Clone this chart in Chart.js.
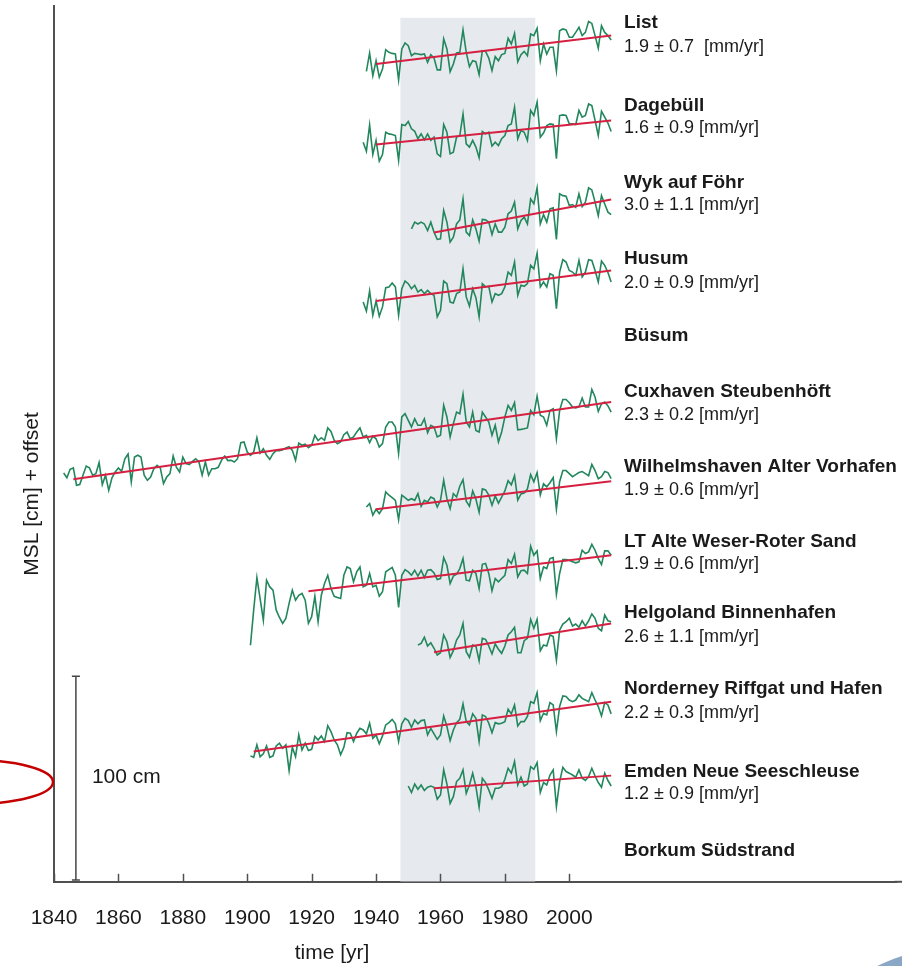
<!DOCTYPE html>
<html lang="en">
<head>
<meta charset="utf-8">
<title>MSL German Bight tide gauges</title>
<style>
  body { margin: 0; background: #ffffff; }
  #wrap { width: 902px; height: 966px; }
</style>
</head>
<body>
<div id="wrap"><canvas id="msl" width="902" height="966"></canvas></div>

<script src="https://cdn.jsdelivr.net/npm/chart.js@4.4.1/dist/chart.umd.min.js"></script>
<script>

// label column on the right (Büsum and Borkum have no curve)
var stationNames = ["List", "Dagebüll", "Wyk auf Föhr", "Husum", "Büsum", "Cuxhaven Steubenhöft",
  "Wilhelmshaven Alter Vorhafen", "LT Alte Weser-Roter Sand", "Helgoland Binnenhafen",
  "Norderney Riffgat und Hafen", "Emden Neue Seeschleuse", "Borkum Südstrand"];
var stationRates = ["1.9 ± 0.7  [mm/yr]", "1.6 ± 0.9 [mm/yr]", "3.0 ± 1.1 [mm/yr]", "2.0 ± 0.9 [mm/yr]", "",
  "2.3 ± 0.2 [mm/yr]", "1.9 ± 0.6 [mm/yr]", "1.9 ± 0.6 [mm/yr]", "2.6 ± 1.1 [mm/yr]",
  "2.2 ± 0.3 [mm/yr]", "1.2 ± 0.9 [mm/yr]", ""];

var yearTicks = [1840, 1860, 1880, 1900, 1920, 1940, 1960, 1980, 2000];
var refPeriod = [1947.5, 1989.5];

// annual mean sea level [cm], one value per year from firstYear
var mslList = [-3.6, 5.4, -5.7, 1.6, -6.5, -2.5, 7.0, 5.7, 5.2, 4.9,
  -7.8, 7.4, 10.3, 9.0, 4.1, 5.2, 4.9, 4.6, 4.9, 0.8,
  4.6, 2.9, -2.9, -2.9, 12.3, 7.4, -3.8, 0.0, 5.4, 5.7,
  16.7, 5.7, -1.3, 1.6, 1.1, -5.2, 6.5, 6.2, 2.9, -3.3,
  3.6, 1.6, 4.6, 5.2, 12.6, 9.8, 15.0, 1.1, 4.6, 6.2,
  4.1, 14.7, 13.9, 17.5, 1.6, 9.8, 4.9, 8.2, 8.2, -3.3,
  16.3, 17.2, 16.7, 13.1, 13.1, 15.5, 18.0, 13.9, 15.5, 20.9,
  19.9, 13.9, 7.8, 18.8, 15.5, 14.0, 11.8];
var mslDagebuell = [1.1, -3.3, 9.6, -4.9, 2.0, -8.2, -4.9, 6.0, 5.2, 4.9,
  4.4, -7.8, 9.8, 9.3, 11.3, 7.7, 6.5, 2.8, 5.2, 2.3,
  5.2, 2.0, 3.6, -4.6, -5.9, 9.8, 6.0, -4.6, -3.8, 3.6,
  4.4, 15.0, 0.3, -1.3, 2.0, -1.3, -6.5, 6.4, 5.2, 6.0,
  -0.8, 1.1, -0.5, 2.8, 4.4, 9.3, 10.1, 18.3, 2.8, 6.9,
  6.0, 2.0, 16.7, 14.2, 20.8, 3.6, 5.6, 9.3, 10.1, 9.8,
  -7.0, 14.2, 14.5, 14.2, 10.1, 10.1, 9.8, 16.7, 13.4, 14.2,
  19.9, 19.1, 11.8, 4.4, 16.3, 13.4, 10.5, 6.4];
var mslWyk = [1.8, 5.1, 4.2, 5.1, 4.2, 1.0, 5.1, 0.2, -3.4, -3.1,
  10.8, 5.1, -4.7, -2.3, 4.2, 6.2, 16.5, 0.2, -1.5, 6.2,
  1.8, -4.2, 6.4, 6.2, 5.1, -1.0, 4.2, 0.2, 0.2, 2.6,
  9.2, 10.5, 14.9, 1.8, 5.9, 7.5, 4.2, 16.5, 14.1, 21.9,
  4.2, 8.8, 5.1, 11.6, 12.1, -3.4, 19.0, 18.1, 17.8, 13.2,
  13.7, 12.4, 19.0, 12.7, 14.9, 21.9, 20.9, 14.9, 8.3, 18.1,
  14.0, 10.0, 8.8];
var mslHusum = [-0.5, -4.9, 4.9, -7.0, 0.0, -7.5, -2.9, 6.5, 6.9, 8.8,
  6.9, -7.0, 6.0, 9.8, 8.5, 6.0, 7.7, 4.4, 5.6, 3.6,
  5.2, 3.6, 2.8, -7.8, -4.6, 9.8, 8.5, -0.5, -1.0, 3.6,
  4.4, 15.8, 2.0, -2.5, 6.0, 1.6, -7.8, 8.5, 6.9, 7.2,
  -0.5, 3.6, 2.8, 3.6, 6.9, 14.2, 12.6, 19.1, 2.8, 7.7,
  7.2, 8.5, 17.5, 15.8, 23.5, 6.9, 9.3, 6.9, 13.4, 12.6,
  -3.8, 14.2, 20.3, 19.1, 15.0, 14.2, 12.6, 19.9, 11.8, 14.2,
  20.3, 19.9, 15.0, 9.3, 19.6, 17.5, 14.0, 9.3];
var mslCuxhaven = [3.1, 0.8, 4.9, 5.6, -2.9, -2.6, 2.0, 6.5, 5.6, 2.0,
  2.8, 8.2, -2.6, 2.0, -5.4, 0.7, 3.6, 5.6, 3.9, 10.1,
  12.4, -1.3, 10.9, 11.8, 10.9, 2.0, -0.5, 1.1, 5.2, 6.9,
  5.6, -2.1, 1.1, 2.8, 11.4, 6.0, 3.6, 10.9, 7.7, 7.2,
  8.8, 10.1, 8.5, 2.0, 8.5, 2.0, 5.2, 5.2, 5.9, 9.3,
  11.4, 9.2, 9.3, 8.5, 10.1, 18.0, 18.3, 13.4, 11.8, 13.4,
  20.4, 12.9, 15.0, 11.8, 9.8, 12.6, 14.2, 14.1, 14.5, 15.4,
  16.0, 14.2, 9.3, 17.8, 16.7, 17.2, 15.5, 16.7, 21.6, 19.0,
  20.4, 19.1, 25.2, 23.5, 19.1, 17.5, 18.3, 21.9, 23.2, 19.9,
  20.8, 23.2, 25.2, 20.8, 21.6, 18.0, 21.2, 19.9, 15.8, 17.5,
  25.7, 28.1, 28.1, 25.7, 12.6, 30.6, 32.2, 28.9, 25.7, 29.7,
  26.5, 26.5, 29.7, 22.9, 26.5, 25.7, 20.8, 21.6, 36.3, 30.6,
  20.8, 27.3, 33.0, 32.2, 41.7, 28.1, 25.7, 33.0, 24.0, 23.2,
  33.0, 30.6, 28.1, 21.6, 26.5, 18.3, 23.2, 30.6, 36.3, 33.8,
  37.6, 24.3, 24.5, 24.8, 25.2, 33.8, 31.7, 40.8, 31.4, 30.6,
  26.5, 33.8, 34.6, 19.9, 33.8, 39.2, 39.2, 37.6, 35.5, 35.0,
  35.5, 39.9, 35.5, 35.5, 44.1, 40.4, 33.3, 37.1, 37.9, 36.0,
  33.0];
var mslWilhelmshaven = [1.1, 2.8, -2.9, 0.0, -2.1, 0.3, 8.5, 6.9, 5.7, 4.4,
  -5.1, 6.9, 5.7, 4.4, 5.2, 4.4, 7.7, 1.5, 4.4, 3.6,
  6.0, 5.2, 1.1, 4.4, 14.2, 5.2, 0.3, 7.7, 6.0, 11.3,
  14.5, 4.0, 1.5, 9.0, 5.0, -1.5, 10.0, 9.5, 7.0, 2.0,
  6.5, 3.0, 6.0, 9.0, 14.0, 12.0, 16.5, 4.5, 7.5, 8.0,
  10.0, 17.0, 13.5, 18.0, 7.0, 12.5, 11.0, 13.0, 15.5, 0.0,
  13.5, 19.0, 19.0, 17.5, 16.0, 17.0, 18.0, 18.5, 17.5, 16.5,
  22.0, 19.0, 15.0, 16.0, 18.5, 18.0, 15.0];
var mslAlteWeser = [-26.5, -9.3, 6.7, -3.6, -14.2, 5.4, 2.1, 0.5, -9.3, -12.9,
  -15.8, -13.4, -6.0, 0.5, -4.4, -2.0, -1.1, -4.4, -15.8, -12.6,
  -2.5, -15.0, -2.0, 3.8, 7.8, 1.3, -2.5, -3.1, -3.6, 7.8,
  11.9, 11.1, 4.6, 9.5, 11.9, 2.1, 2.9, 8.7, 2.1, 2.9,
  -2.5, -0.3, 9.5, 10.6, 11.6, 7.8, -8.0, 7.8, 10.6, 9.5,
  7.8, 10.3, 7.4, 10.3, 6.7, 10.3, 10.6, 9.0, 5.7, 6.2,
  16.5, 12.7, 3.8, 7.4, 8.3, 11.1, 16.0, 5.4, 5.1, 10.3,
  8.7, 1.3, 13.2, 13.6, 8.7, 0.2, 6.2, 4.6, 6.2, 7.8,
  15.5, 13.6, 18.1, 7.0, 10.0, 10.3, 8.7, 22.1, 17.6, 19.8,
  6.2, 11.9, 11.1, 16.0, 16.5, -1.5, 8.7, 15.5, 15.5, 15.2,
  14.4, 13.9, 14.4, 20.1, 18.5, 19.3, 23.0, 20.1, 16.0, 13.1,
  19.8, 19.8, 17.6];
var mslHelgoland = [3.6, 4.4, 7.4, 3.1, 4.7, 2.0, -1.3, -0.2, 8.5, 5.2,
  -2.5, 0.8, 6.0, 8.5, 14.2, 0.3, -2.5, 3.6, 3.1, -4.1,
  6.9, 6.4, 3.1, -0.8, 4.1, 1.5, -0.5, 3.1, 8.5, 10.1,
  12.3, -0.2, -0.2, 5.7, 6.9, 16.2, 11.8, 16.2, 0.8, 3.6,
  3.1, 8.5, 7.7, -3.8, 10.9, 13.9, 15.0, 16.7, 12.9, 13.9,
  12.3, 15.5, 12.9, 15.5, 18.8, 16.7, 11.8, 10.6, 18.3, 15.5,
  15.0];
var mslNorderney = [-2.1, -2.8, 3.3, -2.5, -1.1, 2.8, -2.8, -2.1, 2.8, 4.1,
  1.6, 3.3, -9.3, 2.1, -2.5, 8.2, 0.8, 4.1, 0.5, 1.1,
  7.4, 5.7, 7.7, 4.9, 12.7, 9.8, 5.7, 3.3, -1.6, 2.1,
  9.3, 9.0, 4.9, 9.0, 11.4, 10.6, 8.7, 13.9, 6.5, 8.2,
  3.8, 7.7, 13.1, 14.2, 15.8, 13.6, 4.9, 13.6, 16.3, 15.2,
  11.9, 15.5, 13.6, 15.2, 15.5, 8.2, 11.4, 8.7, 6.0, 8.2,
  17.5, 12.3, 5.4, 10.6, 14.2, 15.8, 23.4, 14.7, 13.1, 18.5,
  16.3, 4.9, 18.0, 17.2, 13.9, 9.3, 14.2, 13.6, 13.9, 14.7,
  20.8, 18.5, 22.9, 12.6, 14.7, 14.7, 17.2, 24.5, 23.7, 28.9,
  15.2, 18.8, 18.0, 24.0, 22.9, 9.8, 22.1, 27.3, 27.0, 25.3,
  24.5, 25.3, 27.8, 26.1, 25.3, 24.5, 28.9, 25.3, 22.1, 17.5,
  24.0, 22.9, 18.5];
var mslEmden = [1.1, -2.1, 2.1, -0.5, 1.6, -1.1, 0.5, 1.1, 0.5, -5.4,
  -3.3, 9.0, 2.1, -7.4, -4.1, 3.3, 4.9, 9.0, -2.5, 1.6,
  7.4, 0.8, -9.3, 4.9, 2.8, -0.8, -4.9, 0.0, 0.0, 0.8,
  4.4, 9.8, 7.4, 13.1, 1.6, 5.4, 1.1, 2.1, 10.6, 9.3,
  12.6, -2.1, 2.8, 1.6, 6.5, 9.0, -9.0, 3.3, 10.3, 8.2,
  7.4, 6.5, 5.4, 9.0, 4.9, 3.8, 5.7, 9.8, 6.0, 2.8,
  0.5, 7.4, 3.8, 1.1];

var mslSeries = [mslList, mslDagebuell, mslWyk, mslHusum, mslCuxhaven, mslWilhelmshaven,
  mslAlteWeser, mslHelgoland, mslNorderney, mslEmden];
var firstYear = [1937, 1936, 1951, 1936, 1843, 1937, 1901, 1953, 1901, 1950];
// vertical offset of each curve [cm]
var offsetCm = [401.3, 361.8, 318.6, 285.0, 197.5, 182.8, 142.6, 112.6, 63.9, 45.9];
// linear trend, start/end year and start/end level [cm]
var trendYears = [[1940, 2013], [1940, 2013], [1958, 2013], [1940, 2013], [1846, 2013],
  [1940, 2013], [1919, 2013], [1958, 2013], [1902, 2013], [1958, 2013]];
var trendCm = [[0, 14.0], [0, 11.8], [0, 16.2], [0, 15.0], [0, 37.9],
  [0, 13.7], [0, 17.6], [0, 14.2], [0, 24.5], [0, 6.2]];

var font = '"Liberation Sans", Arial, Helvetica, sans-serif';
var ink = '#1a1a1a';
var axisColor = '#505050';
var green = '#22875c';
var red = '#d62041';

var datasets = [];

// reference period shading
datasets.push({
  data: [{x: refPeriod[0], y: 424}, {x: refPeriod[1], y: 424}],
  fill: 'origin',
  backgroundColor: '#e6e9ee',
  borderWidth: 0,
  pointRadius: 0,
  order: 5
});

for (var i = 0; i < mslSeries.length; i++) {
  var pts = mslSeries[i].map(function (v, k) {
    return {x: firstYear[i] + k, y: offsetCm[i] + v};
  });
  datasets.push({
    data: pts,
    borderColor: green,
    borderWidth: 1.6,
    pointRadius: 0,
    fill: false,
    order: 3
  });
  datasets.push({
    data: [{x: trendYears[i][0], y: offsetCm[i] + trendCm[i][0]},
           {x: trendYears[i][1], y: offsetCm[i] + trendCm[i][1]}],
    borderColor: red,
    borderWidth: 2,
    pointRadius: 0,
    fill: false,
    order: 2
  });
}

// 100 cm scale bar
datasets.push({
  data: [{x: 1846.8, y: 0.9}, {x: 1846.8, y: 100.9}],
  borderColor: '#454545',
  borderWidth: 1.5,
  pointStyle: 'line',
  pointRadius: 4,
  pointBorderWidth: 1.5,
  pointBorderColor: '#454545',
  fill: false,
  order: 1
});

// px positions of the label column
var nameY = [23, 106, 183, 259, 336, 392, 467, 542, 613, 689, 772, 851];
var rateY = [47, 128, 205, 283, 0, 415, 490, 564, 637, 713, 794, 0];

var decor = {
  id: 'decor',
  afterDraw: function (chart) {
    var ctx = chart.ctx;
    var xs = chart.scales.x;
    var ys = chart.scales.y;
    var area = chart.chartArea;
    ctx.save();

    // x axis line runs on to the right edge of the figure
    ctx.strokeStyle = axisColor;
    ctx.lineWidth = 2;
    ctx.beginPath();
    ctx.moveTo(area.right - 2, area.bottom);
    ctx.lineTo(chart.width, area.bottom);
    ctx.stroke();

    // tick marks pointing into the plot
    ctx.lineWidth = 1.5;
    yearTicks.forEach(function (t) {
      var px = Math.round(xs.getPixelForValue(t)) + 0.5;
      ctx.beginPath();
      ctx.moveTo(px, area.bottom);
      ctx.lineTo(px, area.bottom - 8);
      ctx.stroke();
    });

    // axis titles
    ctx.fillStyle = ink;
    ctx.font = '21px ' + font;
    ctx.textAlign = 'center';
    ctx.textBaseline = 'middle';
    ctx.fillText('time [yr]', 332, 953);
    ctx.save();
    ctx.translate(32, 494);
    ctx.rotate(-Math.PI / 2);
    ctx.fillText('MSL [cm] + offset', 0, 0);
    ctx.restore();

    // scale bar label
    ctx.textAlign = 'left';
    ctx.fillText('100 cm', xs.getPixelForValue(1846.8) + 16, ys.getPixelForValue(51.5));

    // station labels
    var lx = xs.getPixelForValue(2017);
    for (var s = 0; s < stationNames.length; s++) {
      ctx.font = 'bold 19px ' + font;
      ctx.fillText(stationNames[s], lx, nameY[s]);
      if (stationRates[s]) {
        ctx.font = '18px ' + font;
        ctx.fillText(stationRates[s], lx, rateY[s]);
      }
    }

    // red ellipse at the left edge
    ctx.strokeStyle = '#c40000';
    ctx.lineWidth = 2.5;
    ctx.beginPath();
    ctx.ellipse(-28, 782, 81, 22, 0, 0, Math.PI * 2);
    ctx.stroke();

    // blue disc in the corner
    ctx.fillStyle = '#8ba7c6';
    ctx.beginPath();
    ctx.arc(960, 1137, 190, 0, Math.PI * 2);
    ctx.fill();

    ctx.restore();
  }
};

new Chart(document.getElementById('msl'), {
  type: 'line',
  data: {datasets: datasets},
  options: {
    responsive: false,
    animation: false,
    events: [],
    layout: {padding: {left: 54, top: 5, right: 0, bottom: 35}},
    plugins: {legend: {display: false}, tooltip: {enabled: false}},
    scales: {
      x: {
        type: 'linear',
        min: 1840,
        max: 2101.6,
        grid: {display: false, drawTicks: true, tickLength: 24},
        border: {display: true, color: axisColor, width: 2},
        ticks: {
          stepSize: 20,
          padding: 0,
          includeBounds: false,
          color: ink,
          autoSkip: false,
          maxRotation: 0,
          font: {family: font, size: 21},
          callback: function (v) { return yearTicks.indexOf(v) >= 0 ? String(v) : ''; }
        }
      },
      y: {
        type: 'linear',
        min: 0,
        max: 430,
        grid: {display: false, drawTicks: false},
        border: {display: true, color: axisColor, width: 2},
        ticks: {display: false}
      }
    }
  },
  plugins: [decor]
});
</script>
</body>
</html>
